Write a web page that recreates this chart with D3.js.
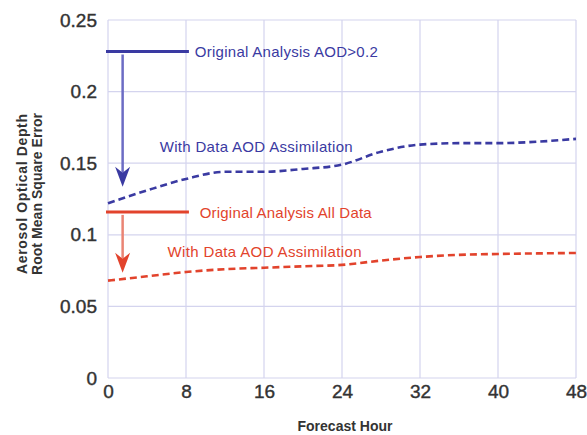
<!DOCTYPE html>
<html>
<head>
<meta charset="utf-8">
<script src="https://cdn.jsdelivr.net/npm/d3@7"></script>
<style>
  body { margin: 0; background: #fff; }
  text { font-family: "Liberation Sans", Arial, sans-serif; }
</style>
</head>
<body>
<div id="chart"></div>
<script>
// data
const hours = [0, 4, 8, 12, 16, 20, 24, 28, 32, 36, 40, 44, 48];
const highAodAssim = [0.122, 0.131, 0.139, 0.144, 0.144, 0.146, 0.149, 0.158, 0.163, 0.164, 0.164, 0.165, 0.167];
const allDataAssim = [0.068, 0.071, 0.074, 0.076, 0.077, 0.078, 0.079, 0.082, 0.0845, 0.086, 0.0866, 0.087, 0.0873];
const highAodOriginal = 0.228;
const allDataOriginal = 0.116;
const xTicks = [0, 8, 16, 24, 32, 40, 48];
const yTicks = [0, 0.05, 0.1, 0.15, 0.2, 0.25];

const width = 587, height = 435;
const margin = { top: 20, right: 11, bottom: 57, left: 108 };

const svg = d3.select('#chart').append('svg')
  .attr('width', width)
  .attr('height', height);

const x = d3.scaleLinear().domain([0, 48]).range([margin.left, width - margin.right]);
const y = d3.scaleLinear().domain([0, 0.25]).range([height - margin.bottom, margin.top]);

const gridColor = '#d4d4ee';
const blue = '#3a3aa2';
const blueLight = '#6c6cc4';
const red = '#e2432c';
const redLight = '#ea8474';
const ink = '#333';

// grid
svg.append('g')
  .selectAll('line')
  .data(xTicks)
  .join('line')
  .attr('x1', d => x(d)).attr('x2', d => x(d))
  .attr('y1', y(0)).attr('y2', y(0.25))
  .attr('stroke', gridColor).attr('stroke-width', 1.2);

svg.append('g')
  .selectAll('line')
  .data(yTicks)
  .join('line')
  .attr('x1', x(0)).attr('x2', x(48))
  .attr('y1', d => y(d)).attr('y2', d => y(d))
  .attr('stroke', gridColor).attr('stroke-width', 1.2);

// axes (labels only)
const xAxis = svg.append('g')
  .attr('transform', `translate(0, ${y(0)})`)
  .call(d3.axisBottom(x).tickValues(xTicks).tickSize(0).tickPadding(5));
xAxis.select('.domain').remove();
xAxis.selectAll('text')
  .attr('font-size', 19).attr('fill', ink).attr('dy', '0.8em')
  .attr('stroke', ink).attr('stroke-width', 0.4);

const yAxis = svg.append('g')
  .attr('transform', `translate(${x(0)}, 0)`)
  .call(d3.axisLeft(y).tickValues(yTicks).tickSize(0).tickPadding(11)
    .tickFormat(d => d3.format('')(+d.toFixed(2))));
yAxis.select('.domain').remove();
yAxis.selectAll('text')
  .attr('font-size', 19).attr('fill', ink)
  .attr('stroke', ink).attr('stroke-width', 0.4);

// axis titles
svg.append('text')
  .attr('x', 345).attr('y', 431)
  .attr('text-anchor', 'middle')
  .attr('font-size', 14).attr('font-weight', 'bold').attr('fill', ink)
  .attr('textLength', 95)
  .text('Forecast Hour');

const yTitle = svg.append('g')
  .attr('transform', `translate(27, 194) rotate(-90)`);
yTitle.append('text')
  .attr('text-anchor', 'middle').attr('font-size', 14).attr('font-weight', 'bold').attr('fill', ink)
  .attr('textLength', 160)
  .text('Aerosol Optical Depth');
yTitle.append('text')
  .attr('y', 15)
  .attr('text-anchor', 'middle').attr('font-size', 14).attr('font-weight', 'bold').attr('fill', ink)
  .attr('textLength', 162)
  .text('Root Mean Square Error');

// dashed assimilation curves
const line = d3.line()
  .x((d, i) => x(hours[i]))
  .y(d => y(d))
  .curve(d3.curveMonotoneX);

svg.append('path')
  .datum(highAodAssim)
  .attr('d', line)
  .attr('fill', 'none')
  .attr('stroke', blue).attr('stroke-width', 2.6)
  .attr('stroke-dasharray', '7,4');

svg.append('path')
  .datum(allDataAssim)
  .attr('d', line)
  .attr('fill', 'none')
  .attr('stroke', red).attr('stroke-width', 2.6)
  .attr('stroke-dasharray', '7,4');

// original analysis levels and arrows
function drawLevel(value, target, color, arrowColor) {
  svg.append('line')
    .attr('x1', x(0) - 2).attr('x2', x(8.3))
    .attr('y1', y(value)).attr('y2', y(value))
    .attr('stroke', color).attr('stroke-width', 3);
  const ax = x(1.5), tip = y(target);
  svg.append('line')
    .attr('x1', ax).attr('x2', ax)
    .attr('y1', y(value) + 3).attr('y2', tip - 14)
    .attr('stroke', arrowColor).attr('stroke-width', 2.5);
  svg.append('path')
    .attr('d', `M${ax - 7.5},${tip - 20} L${ax},${tip - 14} L${ax + 7.5},${tip - 20} L${ax},${tip} Z`)
    .attr('fill', color);
}
drawLevel(highAodOriginal, 0.1335, blue, blueLight);
drawLevel(allDataOriginal, 0.0735, red, redLight);

// annotations
const notes = [
  { text: 'Original Analysis AOD>0.2', hx: 8.9, v: 0.228, c: blue, w: 183 },
  { text: 'With Data AOD Assimilation', hx: 5.3, v: 0.1613, c: blue, w: 193 },
  { text: 'Original Analysis All Data', hx: 9.4, v: 0.1152, c: red, w: 172 },
  { text: 'With Data AOD Assimilation', hx: 6.1, v: 0.088, c: red, w: 194 }
];
svg.append('g')
  .selectAll('text')
  .data(notes)
  .join('text')
  .attr('x', d => x(d.hx))
  .attr('y', d => y(d.v))
  .attr('dy', '0.35em')
  .attr('font-size', 15)
  .attr('fill', d => d.c)
  .attr('textLength', d => d.w)
  .text(d => d.text);
</script>
</body>
</html>
